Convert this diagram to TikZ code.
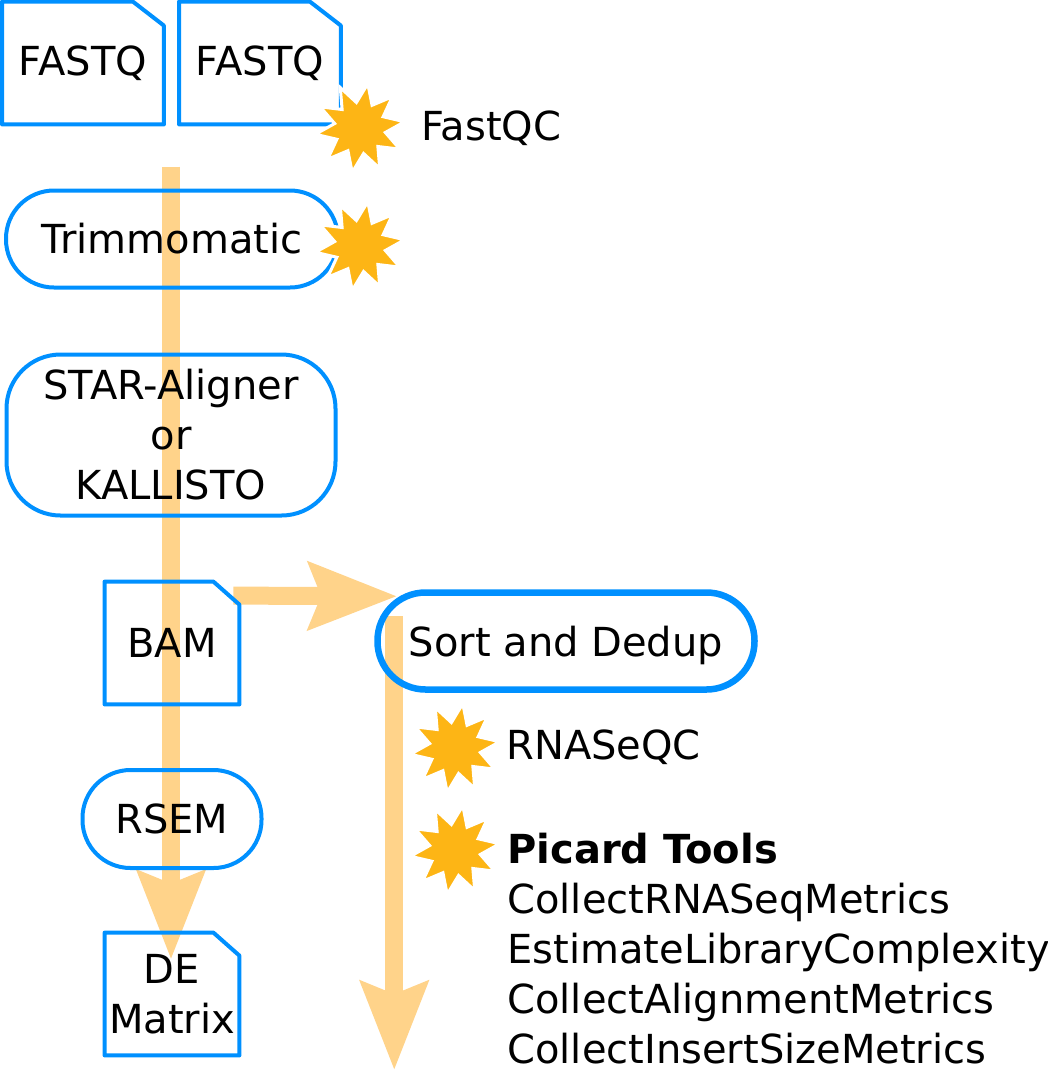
\documentclass[tikz,border=0pt]{standalone}
\usepackage{fontspec}
\setmainfont{DejaVu Sans}
\usetikzlibrary{arrows.meta,shapes.geometric,calc}
\definecolor{fileblue}{HTML}{0090FF}
\definecolor{flow}{HTML}{FFD38A}
\definecolor{qcstar}{HTML}{FDB515}
\pgfdeclarelayer{background}
\pgfsetlayers{background,main}

\begin{document}
\begin{tikzpicture}[x = 0.5pt, y = -0.5pt,
  every node/.style = {font = \fontsize{20}{25}\selectfont, inner sep = 0pt},
  tool/.style = {draw = fileblue, line width = 2pt, rounded corners = 24pt, minimum height = 48.5pt},
  docfile/.style = {minimum width = 67pt, minimum height = 61pt},
  docline/.style = {draw = fileblue, line width = 2pt, line join = round},
  flowarrow/.style = {draw = flow, line width = 9pt, -{Stealth[length = 44pt, width = 33pt, inset = 6pt]}},
  qc/.style = {star, star points = 10, star point ratio = 1.75, minimum size = 45pt, fill = qcstar, draw = white, line width = 1.5pt, shape border rotate = -10}]
  \useasboundingbox (0, 0) rectangle (1048, 1073);

  % input files and tools
  \node[docfile, minimum width = 80.5pt] (fq1) at (83, 63) {FASTQ};
  \node[docfile, minimum width = 80.5pt] (fq2) at (260, 63) {FASTQ};
  \node[tool, minimum width = 166pt] (trim) at (172, 239) {Trimmomatic};
  \node[tool, minimum width = 164.5pt, minimum height = 80.5pt, rounded corners = 27pt, align = center] (align) at (171, 435) {STAR-Aligner\\or\\KALLISTO};
  \node[docfile] (bam) at (172, 643) {BAM};
  \node[tool, minimum width = 188.5pt, line width = 3.25pt, text depth = 0pt] (sort) at (566, 641) {Sort and Dedup};
  \node[tool, minimum width = 89.5pt, minimum height = 49pt] (rsem) at (172, 819) {RSEM};
  \node[docfile, align = center] (de) at (172, 994) {DE\\Matrix};

  \foreach \f/\cx/\cy in {fq1/31/24, fq2/31/24, bam/26/23, de/26/23}
    \draw[docline] (\f.north west) -- ($(\f.north east) + (-\cx, 0)$) -- ($(\f.north east) + (0, \cy)$) -- (\f.south east) -- (\f.south west) -- cycle;

  % flow
  \begin{pgfonlayer}{background}
    \draw[flowarrow] ($(trim.north) + (-1, -22)$) -- ($(de.north) + (-1, 27)$);
    \draw[flowarrow] ($(bam.north east) + (-6, 14)$) -- ($(sort.north west) + (23, 7)$);
    \draw[flowarrow] ($(sort.north west) + (20, 27)$) -- ($(sort.north west) + (20, 481)$);
  \end{pgfonlayer}

  % quality control
  \node[qc] (qcfast) at (360, 128) {};
  \node[anchor = west] (fastqc) at (421, 128) {FastQC};
  \node[qc] (qctrim) at (360, 246) {};
  \node[qc] (qcrna) at (455, 748) {};
  \node[anchor = west] (rnaseqc) at (506, 747) {RNASeQC};
  \node[qc] (qcpicard) at (455, 850) {};
  \node[anchor = north west, align = left] (picard) at (507, 833) {\textbf{Picard Tools}\\CollectRNASeqMetrics\\EstimateLibraryComplexity\\CollectAlignmentMetrics\\CollectInsertSizeMetrics};
\end{tikzpicture}
\end{document}
